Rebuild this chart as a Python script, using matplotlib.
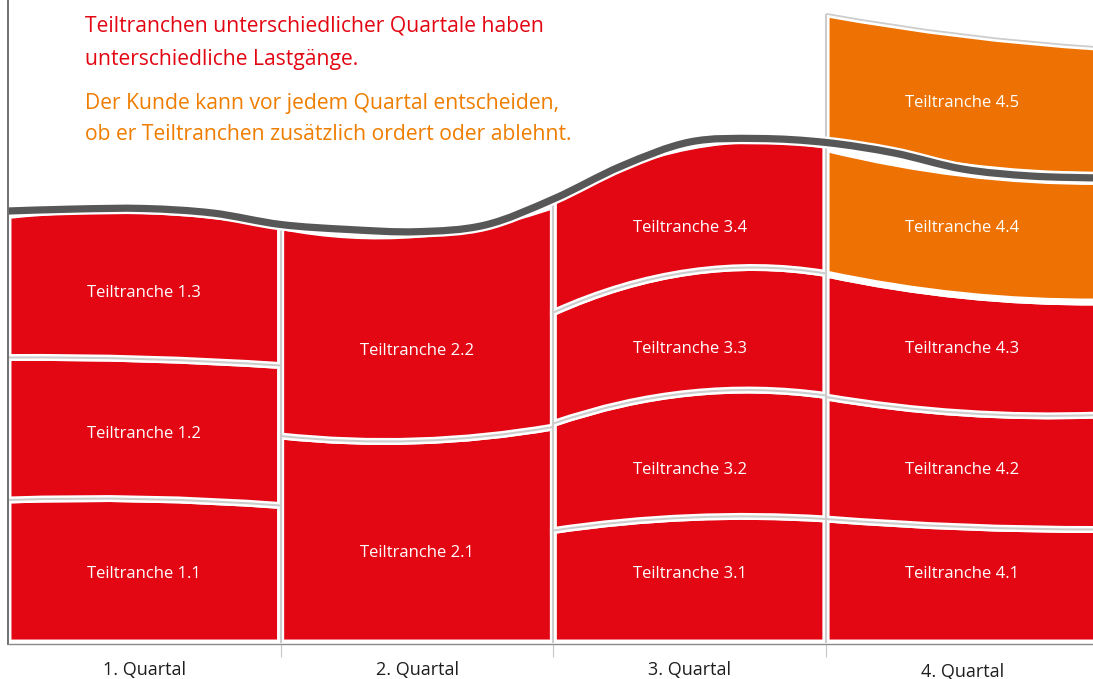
import matplotlib
matplotlib.use("Agg")
import matplotlib.pyplot as plt
from matplotlib.path import Path
from matplotlib.patches import PathPatch
import matplotlib.transforms as mtransforms
from matplotlib.ticker import NullFormatter

plt.rcParams['font.family'] = ['Open Sans', 'DejaVu Sans']

# ---------------- data ----------------
quarters = ['1. Quartal', '2. Quartal', '3. Quartal', '4. Quartal']

tranche_names = ['Teiltranche 1.1', 'Teiltranche 1.2', 'Teiltranche 1.3',
                 'Teiltranche 2.1', 'Teiltranche 2.2',
                 'Teiltranche 3.1', 'Teiltranche 3.2', 'Teiltranche 3.3', 'Teiltranche 3.4',
                 'Teiltranche 4.1', 'Teiltranche 4.2', 'Teiltranche 4.3', 'Teiltranche 4.4',
                 'Teiltranche 4.5']
tranche_quarter = [0, 0, 0, 1, 1, 2, 2, 2, 2, 3, 3, 3, 3, 3]
# lower / upper load level of each tranche at start, middle and end of its quarter
tranche_bottom = [(0, 0, 0), (143, 144, 137.5), (285.5, 284, 277.5),
                  (0, 0, 0), (207, 202, 216),
                  (0, 0, 0), (112.5, 125.5, 124), (219.5, 250, 247.5), (330.5, 371, 369.5),
                  (0, 0, 0), (124, 116, 113.5), (246, 230, 228), (369, 347.5, 341),
                  (502.8, 476.5, 467.8)]
tranche_top = [(143, 144, 137.5), (285.5, 284, 277.5), (427.5, 432.5, 417.5),
               (207, 202, 216), (416.5, 408.5, 437.5),
               (112.5, 125.5, 124), (219.5, 250, 247.5), (330.5, 371, 369.5), (444.5, 496.5, 497.5),
               (124, 116, 113.5), (246, 230, 228), (369, 347.5, 341), (494.5, 469.5, 461.5),
               (629.2, 608.5, 595.8)]
tranche_optional = [False] * 12 + [True, True]
label_level = [69, 209, 350, 90, 292, 69, 173, 294, 415, 69, 173, 294, 415, 540]

# total load curve (Lastgang)
lastgang_x = [0, 0.25, 0.5, 0.75, 1.0, 1.25, 1.5, 1.75, 2.0, 2.25, 2.5, 2.75,
              3.0, 3.25, 3.5, 3.75, 4.0]
lastgang_y = [432, 434, 434.5, 430, 418.5, 413.5, 411.3, 418, 444, 477, 501, 504.5,
              500.5, 490, 474, 467, 465]

text_lines_red = ['Teiltranchen unterschiedlicher Quartale haben',
                  'unterschiedliche Lastgänge.']
text_lines_orange = ['Der Kunde kann vor jedem Quartal entscheiden,',
                     'ob er Teiltranchen zusätzlich ordert oder ablehnt.']

# ---------------- style ----------------
RED = '#E30613'
ORANGE = '#EE7203'
TXT_RED = '#E30613'
TXT_ORANGE = '#EF7D00'
DARK = '#575757'
SEP = '#cdcdcd'

W, H = 1093, 679
fig = plt.figure(figsize=(W / 100, H / 100), dpi=100)
fig.patch.set_facecolor('white')
ax = fig.add_axes([8 / W, 35 / H, 1 - 8 / W, 644 / H])
ax.set_xlim(0, (W - 8) / 272.7)
ax.set_ylim(-1, 643)
ax.set_facecolor('white')


def curve_path(x0, vals):
    l, m, r = vals
    c = 2 * m - (l + r) / 2
    return [(x0, l), (x0 + 0.5, c), (x0 + 1, r)]


def block_path(q, bot, top):
    b = curve_path(q, bot)
    t = curve_path(q, top)
    verts = [b[0], b[1], b[2], t[2], t[1], t[0], b[0]]
    codes = [Path.MOVETO, Path.CURVE3, Path.CURVE3, Path.LINETO,
             Path.CURVE3, Path.CURVE3, Path.CLOSEPOLY]
    return Path(verts, codes)


def line_path(q, vals):
    p = curve_path(q, vals)
    return Path(p, [Path.MOVETO, Path.CURVE3, Path.CURVE3])


# blocks
for name, q, bot, top, opt, ly in zip(tranche_names, tranche_quarter, tranche_bottom,
                                       tranche_top, tranche_optional, label_level):
    ax.add_patch(PathPatch(block_path(q, bot, top),
                           facecolor=ORANGE if opt else RED,
                           edgecolor='white', lw=5.0, joinstyle='miter', zorder=2))
    ax.text(q + 0.5, ly, name, color='white', ha='center', va='center',
            fontsize=12, zorder=6)

# separator lines between tranches
for q, bot, opt in zip(tranche_quarter, tranche_bottom, tranche_optional):
    if bot[0] > 0 and not opt:
        ax.add_patch(PathPatch(line_path(q, bot), facecolor='none', edgecolor=SEP,
                               lw=1.5, zorder=3))
# outline of top optional tranche
ax.add_patch(PathPatch(line_path(3, tranche_top[-1]), facecolor='none', edgecolor=SEP,
                       lw=1.3, zorder=3))
# vertical separators between quarters
sep_tops = [lastgang_y[4], lastgang_y[8], tranche_top[-1][0]]
for q, yt in zip([1, 2, 3], sep_tops):
    ax.plot([q, q], [0, yt], color=SEP, lw=1.5, zorder=3, solid_capstyle='butt')

# Lastgang curve: smooth Bezier (Catmull-Rom) through the points
pts = list(zip(lastgang_x, lastgang_y))
ext = [pts[0]] + pts + [pts[-1]]
verts = [pts[0]]
codes = [Path.MOVETO]
for i in range(1, len(ext) - 2):
    p0, p1, p2, p3 = ext[i - 1], ext[i], ext[i + 1], ext[i + 2]
    c1 = (p1[0] + (p2[0] - p0[0]) / 6, p1[1] + (p2[1] - p0[1]) / 6)
    c2 = (p2[0] - (p3[0] - p1[0]) / 6, p2[1] - (p3[1] - p1[1]) / 6)
    verts += [c1, c2, p2]
    codes += [Path.CURVE4] * 3
lg_path = Path(verts, codes)
ax.add_patch(PathPatch(lg_path, facecolor='none', edgecolor='white', lw=8.5,
                       capstyle='butt', zorder=4))
ax.add_patch(PathPatch(lg_path, facecolor='none', edgecolor=DARK, lw=5.2,
                       capstyle='butt', zorder=5))

# axes styling
for s in ['top', 'right']:
    ax.spines[s].set_visible(False)
ax.spines['left'].set_color('#707070')
ax.spines['left'].set_linewidth(1.4)
ax.spines['bottom'].set_color('#8a8a8a')
ax.spines['bottom'].set_linewidth(1.0)
ax.spines['left'].set_zorder(7)
ax.spines['bottom'].set_zorder(7)
ax.set_yticks([])
ax.set_xticks([1, 2, 3])
ax.xaxis.set_major_formatter(NullFormatter())
ax.set_xticks([0.5, 1.5, 2.5, 3.5], minor=True)
ax.set_xticklabels(quarters, minor=True)
ax.tick_params(axis='x', which='major', length=9.4, width=0.8, color='#c8c8c8',
               direction='out')
ax.tick_params(axis='x', which='minor', length=0, pad=12, labelsize=13,
               labelcolor='#1e1e1e')
lab4 = ax.xaxis.get_minorticklabels()[3]
lab4.set_transform(lab4.get_transform() +
                   mtransforms.ScaledTranslation(0, -2 / 100, fig.dpi_scale_trans))

# explanatory text
y_base = [31.5, 65, 108.5, 140.5]
for txt, yb, col in zip(text_lines_red + text_lines_orange, y_base,
                        [TXT_RED, TXT_RED, TXT_ORANGE, TXT_ORANGE]):
    fig.text(85 / W, 1 - yb / H, txt, color=col, fontsize=15.2, va='baseline',
             ha='left')

fig.savefig('out.png', dpi=100)
